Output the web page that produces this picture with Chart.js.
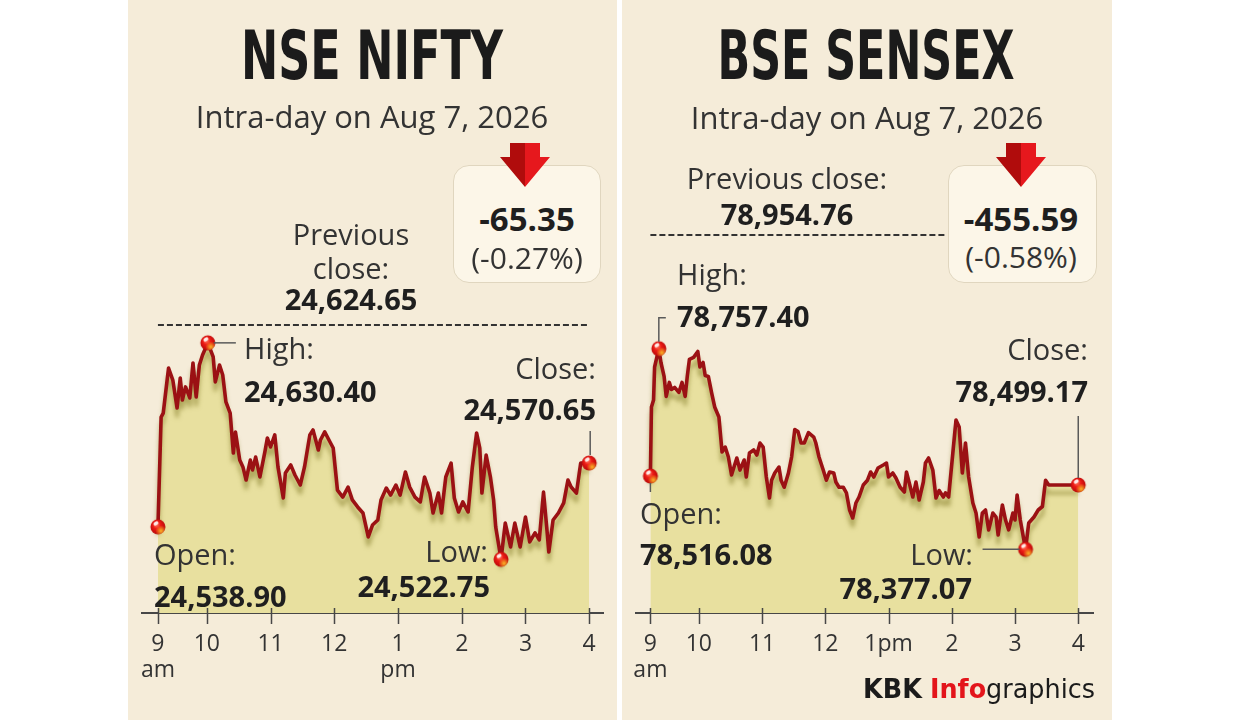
<!DOCTYPE html>
<html>
<head>
<meta charset="utf-8">
<script src="https://cdn.jsdelivr.net/npm/chart.js@4.4.1/dist/chart.umd.min.js"></script>
<style>
html,body{margin:0;padding:0;width:1240px;height:720px;overflow:hidden;background:#ffffff;font-family:'Open Sans',sans-serif;color:#2e2e2e}
.panel{position:absolute;top:0;height:720px;background:#f5ecd9}
canvas{position:absolute;top:0}
.t{position:absolute;white-space:nowrap;line-height:1}
.c{transform:translate(-50%,-50%)}
.l{transform:translate(0,-50%)}
.r{transform:translate(-100%,-50%)}
.title{font-family:'Liberation Sans Narrow','DejaVu Sans Condensed','Open Sans',sans-serif;font-weight:700;font-size:67px;color:#1b1b1b}
.sub{font-size:31px;color:#333}
.reg{font-size:29px;color:#333}
.val{font-size:29px;font-weight:700;color:#1f1f1f}
.big{font-size:33px;font-weight:700;color:#1f1f1f}
.pct{font-size:30px;color:#333}
.box{position:absolute;background:#fcf6e8;border:1.5px solid #e0d6bf;border-radius:16px;box-sizing:border-box}
.arrow{position:absolute}
.logo{font-family:'Liberation Sans Narrow','DejaVu Sans Condensed','Open Sans',sans-serif;font-size:27px;color:#1b1b1b}
</style>
</head>
<body>
<div class="panel" style="left:128px;width:489px"></div>
<div class="panel" style="left:622px;width:490px"></div>
<canvas id="c1" width="490" height="720" style="left:128px"></canvas>
<canvas id="c2" width="490" height="720" style="left:622px"></canvas>

<div class="box" style="left:453px;top:165px;width:148px;height:118px"></div>
<div class="box" style="left:948px;top:165px;width:149px;height:118px"></div>
<svg class="arrow" style="left:500px;top:143px" width="50" height="45" viewBox="0 0 50 45">
  <polygon points="10,0 25,0 25,44 0,14 10,14" fill="#b00c0c"/>
  <polygon points="25,0 40,0 40,14 50,14 25,44" fill="#e6181d"/>
</svg>
<svg class="arrow" style="left:996px;top:143px" width="50" height="45" viewBox="0 0 50 45">
  <polygon points="10,0 25,0 25,44 0,14 10,14" fill="#b00c0c"/>
  <polygon points="25,0 40,0 40,14 50,14 25,44" fill="#e6181d"/>
</svg>
<div id="labels"></div>

<script>
// ---------------- DATA ----------------
// time = minutes after 9:00 am, values = index level
const niftyMinutes = [
14,17,19,24,28,32,35,37,40,44,
47,50,53,56,61,66,68,72,75,78,
82,85,87,91,94,97,101,103,106,110,
115,117,120,124,127,132,134,139,143,148,
152,157,160,165,167,171,176,179,183,188,
193,197,202,207,212,216,221,224,229,233,
238,242,247,251,256,261,265,270,273,278,
281,285,290,293,297,301,306,310,314,317,
319,323,327,330,332,337,341,346,350,355,
360,364,369,373,377,380,382,386,391,396,
400,403,408,412,415,420];
const niftyValues = [
24538.90,24593.5,24595.5,24617.9,24611.9,24598.0,24612.9,24602.0,24608.5,24603.0,
24620.4,24603.5,24619.4,24624.4,24630.40,24623.4,24611.0,24619.4,24614.4,24601.0,
24595.5,24575.6,24586.1,24572.1,24568.7,24562.2,24572.1,24567.2,24573.6,24563.7,
24577.1,24583.1,24578.6,24584.6,24568.7,24553.3,24565.7,24569.7,24564.7,24559.7,
24568.7,24584.6,24587.1,24577.1,24582.1,24586.1,24581.1,24578.1,24557.2,24553.7,
24558.7,24552.3,24548.8,24545.8,24533.9,24539.8,24542.3,24552.3,24558.2,24554.7,
24559.7,24554.7,24566.2,24558.7,24553.7,24551.3,24563.7,24555.7,24545.8,24555.7,
24545.8,24563.7,24570.6,24553.3,24546.3,24551.3,24546.3,24568.7,24585.6,24578.1,
24555.7,24574.6,24563.7,24552.3,24538.8,24522.75,24540.8,24528.9,24540.8,24528.9,
24543.8,24531.4,24535.9,24532.4,24556.2,24538.8,24526.4,24542.3,24545.8,24550.8,
24562.2,24558.7,24555.7,24570.6,24570.6,24570.65];

const sensexMinutes = [
14,15,17,18,22,24,27,29,32,34,
37,41,44,47,49,51,55,59,61,64,
66,69,72,75,79,82,85,88,91,96,
99,103,105,108,112,115,118,121,124,127,
129,132,136,138,141,145,148,151,154,157,
160,164,169,171,174,178,181,184,188,190,
193,197,200,203,206,209,212,216,220,223,
226,230,235,238,240,244,247,251,255,257,
259,263,266,269,273,275,278,282,285,288,
292,294,297,301,304,307,310,313,316,320,
323,326,329,332,335,339,342,344,348,351,
354,358,360,362,365,370,373,378,382,386,
389,392,420];
const sensexValues = [
78516.08,78646.9,78660.1,78722.7,78757.40,78731.2,78704.8,78666.9,78693.4,78680.2,
78684.0,78674.5,78693.4,78666.9,78704.8,78737.1,78740.9,78752.2,78722.7,78731.2,
78706.6,78704.8,78674.5,78646.9,78627.9,78561.6,78571.0,78552.1,78518.0,78550.2,
78527.4,78546.4,78514.2,78559.7,78565.4,78555.9,78578.6,78571.0,78514.2,78474.4,
78508.1,78521.8,78533.1,78508.1,78494.8,78521.8,78552.1,78604.2,78600.3,78578.6,
78578.6,78598.3,78590.0,78578.6,78552.1,78527.4,78508.1,78523.7,78521.8,78504.7,
78494.8,78494.8,78484.2,78451.7,78436.5,78464.9,78476.3,78499.1,78508.1,78523.7,
78514.2,78531.3,78537.0,78540.7,78514.2,78521.8,78512.3,78494.8,78485.8,78523.7,
78508.1,78476.3,78504.7,78470.6,78504.7,78540.7,78550.2,78527.4,78474.4,78488.6,
78476.3,78484.2,78476.3,78559.7,78622.2,78608.9,78521.8,78578.6,78514.2,78464.9,
78446.0,78400.5,78446.0,78451.7,78414.0,78446.0,78438.4,78404.3,78461.2,78432.7,
78414.0,78446.0,78432.7,78480.1,78432.7,78377.07,78427.0,78438.4,78451.7,78458.3,
78508.1,78499.2,78499.17];

const tickMinutes = [14, 60, 120, 180, 240, 300, 360, 420];
const niftyTickLabels = [['9','am'],'10','11','12',['1','pm'],'2','3','4'];
const sensexTickLabels = [['9','am'],'10','11','12','1pm','2','3','4'];

const niftySummary = ['24,624.65', '-65.35', '(-0.27%)'];   // previous close, change, change %
const sensexSummary = ['78,954.76', '-455.59', '(-0.58%)'];

// ---------------- STYLE ----------------
const FILL = '#e8e09f';
const LINE = '#9b1114';

function makeBall(){
  const c = document.createElement('canvas'); c.width = c.height = 18;
  const g = c.getContext('2d');
  const gr = g.createRadialGradient(7,6,1,9,9,8.5);
  gr.addColorStop(0,'#ff7a62'); gr.addColorStop(0.35,'#ee1d16'); gr.addColorStop(0.8,'#c50c0c'); gr.addColorStop(1,'#9c0808');
  g.fillStyle = gr; g.beginPath(); g.arc(9,9,7.5,0,Math.PI*2); g.fill();
  const g2 = g.createRadialGradient(12,13,0,12,13,5.5);
  g2.addColorStop(0,'rgba(255,190,40,0.95)'); g2.addColorStop(1,'rgba(255,190,40,0)');
  g.save(); g.beginPath(); g.arc(9,9,7.5,0,Math.PI*2); g.clip(); g.fillStyle = g2; g.fillRect(0,0,18,18); g.restore();
  g.fillStyle = 'rgba(255,255,255,0.85)'; g.beginPath(); g.ellipse(7,5.5,2.6,1.8,-0.5,0,Math.PI*2); g.fill();
  return c;
}
const BALL = makeBall();

const shadowPlugin = {
  id:'lineShadow',
  beforeDatasetDraw(chart,args){
    if (chart.data.datasets[args.index].shadow){
      const c = chart.ctx; c.save();
      c.shadowColor = 'rgba(140,132,50,0.6)'; c.shadowBlur = 4; c.shadowOffsetY = 8;
    }
  },
  afterDatasetDraw(chart,args){
    if (chart.data.datasets[args.index].shadow) chart.ctx.restore();
  }
};
const tickPlugin = {
  id:'crossTicks',
  afterDraw(chart){
    const s = chart.scales.x, c = chart.ctx, y = chart.chartArea.bottom;
    c.save(); c.strokeStyle = '#474747'; c.lineWidth = 1.5;
    s.ticks.forEach(t => {
      const x = Math.round(s.getPixelForValue(t.value)) + 0.5;
      c.beginPath(); c.moveTo(x, y - 5); c.lineTo(x, y + 11); c.stroke();
    });
    c.restore();
  }
};
const leaderPlugin = {
  id:'leaders',
  afterDatasetsDraw(chart){
    const ds = chart.data.datasets[3], meta = chart.getDatasetMeta(3), c = chart.ctx;
    c.save(); c.strokeStyle = '#5a5a5a'; c.lineWidth = 1.5;
    (ds.leaders || []).forEach(L => {
      const el = meta.data[L.i];
      c.beginPath();
      L.pts.forEach((p,k) => { const X = el.x + p[0], Y = el.y + p[1]; k ? c.lineTo(X,Y) : c.moveTo(X,Y); });
      c.stroke();
    });
    c.restore();
  }
};

function makeChart(id, minutes, values, tickLabels, xMin, xMax, yMin, yMax, dashEnd, pad, leaders){
  const series = minutes.map((m,i) => ({x:m, y:values[i]}));
  const iHigh = values.indexOf(Math.max(...values));
  const iLow = values.indexOf(Math.min(...values));
  const markers = [0, iHigh, iLow, values.length-1].map(i => series[i]);
  return new Chart(document.getElementById(id), {
    type:'line',
    data:{datasets:[
      {data:series, fill:'start', backgroundColor:FILL, borderWidth:0, pointRadius:0, order:4},
      {data:series, fill:false, borderColor:LINE, borderWidth:3.6, pointRadius:0, order:3, shadow:true, borderJoinStyle:'round'},
      {data:[{x:minutes[0], y:yMax},{x:dashEnd, y:yMax}], fill:false, borderColor:'#333', borderWidth:2, borderDash:[6,3], pointRadius:0, clip:false, order:2},
      {data:markers, showLine:false, pointStyle:BALL, pointRadius:8, clip:false, order:1, leaders:leaders}
    ]},
    options:{
      responsive:false, animation:false, events:[],
      layout:{padding:pad},
      plugins:{legend:{display:false}, tooltip:{enabled:false}},
      scales:{
        x:{type:'linear', min:xMin, max:xMax,
           afterBuildTicks:s => { s.ticks = tickMinutes.map(v => ({value:v})); },
           afterFit:s => { s.height = 107; },
           grid:{display:false},
           border:{display:true, color:'#474747', width:2},
           ticks:{autoSkip:false, maxRotation:0, padding:11, color:'#333',
                  font:{family:'Open Sans', size:23, lineHeight:1.12},
                  callback:(v,i) => tickLabels[i]}},
        y:{display:false, min:yMin, max:yMax}
      }
    },
    plugins:[shadowPlugin, tickPlugin, leaderPlugin]
  });
}

makeChart('c1', niftyMinutes, niftyValues, niftyTickLabels, -1, 433, 24496.06, 24639.28, 420,
  {left:14, right:15, top:325, bottom:0},
  [{i:1, pts:[[6,0],[28,0]]}, {i:3, pts:[[1,-8],[1,-32]]}]);
makeChart('c2', sensexMinutes, sensexValues, sensexTickLabels, 0, 434, 78256.5, 78972.81, 293,
  {left:11, right:19, top:235, bottom:0},
  [{i:1, pts:[[0,-7],[0,-31],[7,-31]]}, {i:0, pts:[[0,7],[0,16]]}, {i:2, pts:[[-6,0],[-43,0]]}, {i:3, pts:[[0,-7],[0,-69]]}]);

// ---------------- TEXT ----------------
const fmt = v => v.toLocaleString('en-US', {minimumFractionDigits:2, maximumFractionDigits:2});
const nOpen = fmt(niftyValues[0]), nHigh = fmt(Math.max(...niftyValues)), nLow = fmt(Math.min(...niftyValues)), nClose = fmt(niftyValues[niftyValues.length-1]);
const sOpen = fmt(sensexValues[0]), sHigh = fmt(Math.max(...sensexValues)), sLow = fmt(Math.min(...sensexValues)), sClose = fmt(sensexValues[sensexValues.length-1]);

const labels = [
  ['NSE NIFTY','title','c',372,56,'t1'],
  ['Intra-day on Aug 7, 2026','sub','c',372,116],
  [niftySummary[1],'big','c',527,218],
  [niftySummary[2],'pct','c',527,258],
  ['Previous','reg','c',351,233],
  ['close:','reg','c',351,267],
  [niftySummary[0],'val','c',351,298],
  ['High:','reg','l',244,347],
  [nHigh,'val','l',244,390],
  ['Close:','reg','r',596,367],
  [nClose,'val','r',596,408],
  ['Open:','reg','l',154,553],
  [nOpen,'val','l',154,595],
  ['Low:','reg','r',488,550],
  [nLow,'val','r',490,585],

  ['BSE SENSEX','title','c',866,56,'t2'],
  ['Intra-day on Aug 7, 2026','sub','c',867,117],
  ['Previous close:','reg','c',787,177],
  [sensexSummary[0],'val','c',787,213],
  [sensexSummary[1],'big','c',1021,218],
  [sensexSummary[2],'pct','c',1021,257],
  ['High:','reg','l',677,273],
  [sHigh,'val','l',677,315],
  ['Close:','reg','r',1088,348],
  [sClose,'val','r',1088,390],
  ['Open:','reg','l',640,512],
  [sOpen,'val','l',640,553],
  ['Low:','reg','r',973,553],
  [sLow,'val','r',972,587]
];
const host = document.getElementById('labels');
labels.forEach(L => {
  const d = document.createElement('div');
  d.className = 't ' + L[1] + ' ' + L[2];
  d.textContent = L[0];
  d.style.left = L[3] + 'px'; d.style.top = L[4] + 'px';
  if (L[5]) d.id = L[5];
  host.appendChild(d);
});
const logo = document.createElement('div');
logo.className = 't logo c'; logo.id = 'logo';
logo.style.left = '979px'; logo.style.top = '688px';
logo.innerHTML = '<b>KBK</b> <span style="color:#e3151b;font-weight:600">Info</span>graphics';
host.appendChild(logo);

function fit(id, w){
  const e = document.getElementById(id);
  const r = e.getBoundingClientRect().width;
  e.style.transform = 'translate(-50%,-50%) scaleX(' + (w / r) + ')';
}
fit('t1', 262); fit('t2', 297); fit('logo', 232);
</script>
</body>
</html>
